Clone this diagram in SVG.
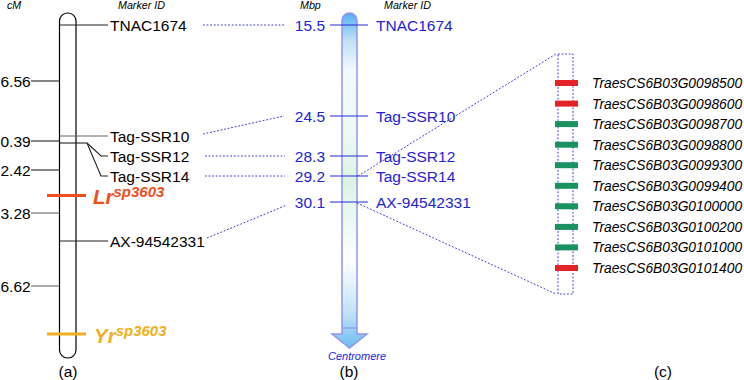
<svg xmlns="http://www.w3.org/2000/svg" width="744" height="380" viewBox="0 0 744 380">
<defs>
<linearGradient id="chrGrad" gradientUnits="userSpaceOnUse" x1="0" y1="13" x2="0" y2="348">
<stop offset="0" stop-color="#55aef0"/>
<stop offset="0.08" stop-color="#bfe0f8"/>
<stop offset="0.17" stop-color="#f2f9fe"/>
<stop offset="0.35" stop-color="#eef9f2"/>
<stop offset="0.5" stop-color="#dcf4e3"/>
<stop offset="0.64" stop-color="#eefaf3"/>
<stop offset="0.74" stop-color="#ffffff"/>
<stop offset="0.9" stop-color="#bde1f7"/>
<stop offset="1" stop-color="#6cbcf0"/>
</linearGradient>
</defs>
<style>
text{font-family:"Liberation Sans",Arial,sans-serif;}
.lbl{font-size:15.5px;fill:#000;}
.blbl{font-size:15.5px;fill:#2222d6;}
.hdr{font-size:10.7px;font-style:italic;fill:#000;}
.gene{font-size:13.8px;font-style:italic;fill:#000;}
.tick{stroke:#222;stroke-width:1.1;fill:none;}
.gtick{stroke:#666;stroke-width:1.1;fill:none;}
.btick{stroke:#2a2ad0;stroke-width:1.2;fill:none;}
.dot{stroke:#3a3ad0;stroke-width:1;stroke-dasharray:1.8 1.8;fill:none;}
.red{fill:#e3232a;}
.green{fill:#1a9160;}
</style>
<rect width="744" height="380" fill="#ffffff"/>

<!-- headers -->
<text class="hdr" x="7" y="9">cM</text>
<text class="hdr" x="118" y="9">Marker ID</text>
<text class="hdr" x="300" y="9">Mbp</text>
<text class="hdr" x="384" y="9">Marker ID</text>

<!-- (a) genetic map -->
<g id="chrA">
<rect x="59.5" y="13" width="16.5" height="345" rx="8" ry="8" fill="#fff" stroke="#000" stroke-width="1.2"/>
<text class="lbl" x="68" y="377" text-anchor="middle">(a)</text>
</g>
<g id="cM-scale">
<line class="tick" x1="31" y1="81" x2="59.5" y2="81"/>
<line class="tick" x1="31" y1="141" x2="59.5" y2="141"/>
<line class="tick" x1="31" y1="170" x2="59.5" y2="170"/>
<line class="gtick" x1="31" y1="213" x2="59.5" y2="213"/>
<line class="gtick" x1="31" y1="286" x2="59.5" y2="286"/>
<text class="lbl" x="0.5" y="86.5">6.56</text>
<text class="lbl" x="0.5" y="146.5">0.39</text>
<text class="lbl" x="0.5" y="175.5">2.42</text>
<text class="lbl" x="0.5" y="218.5">3.28</text>
<text class="lbl" x="0.5" y="291.5">6.62</text>
</g>
<g id="a-TNAC1674">
<line class="tick" x1="59.5" y1="25" x2="108" y2="25"/>
<text class="lbl" x="110" y="30.5">TNAC1674</text>
</g>
<g id="a-TagSSR10">
<line class="gtick" x1="59.5" y1="136" x2="108" y2="136"/>
<text class="lbl" x="110" y="141.5">Tag-SSR10</text>
</g>
<g id="a-TagSSR12">
<line class="tick" x1="59.5" y1="143" x2="87" y2="143"/>
<polyline class="tick" points="87,143 101,156 108,156"/>
<text class="lbl" x="110" y="161.5">Tag-SSR12</text>
</g>
<g id="a-TagSSR14">
<polyline class="tick" points="87,143 101,176 108,176"/>
<text class="lbl" x="110" y="181.5">Tag-SSR14</text>
</g>
<g id="a-AX94542331">
<line class="tick" x1="59.5" y1="241" x2="108" y2="241"/>
<text class="lbl" x="110" y="246.5">AX-94542331</text>
</g>
<g id="Lr">
<line x1="47" y1="195.5" x2="86" y2="195.5" stroke="#f04e1e" stroke-width="3.2"/>
<text x="93" y="204" font-size="20.5" font-weight="bold" font-style="italic" fill="#f04e1e">Lr<tspan font-size="15" dy="-7">sp3603</tspan></text>
</g>
<g id="Yr">
<line x1="47" y1="334" x2="86" y2="334" stroke="#f0b020" stroke-width="3.2"/>
<text x="94" y="342.5" font-size="20.5" font-weight="bold" font-style="italic" fill="#f0b020">Yr<tspan font-size="15" dy="-7">sp3603</tspan></text>
</g>

<!-- (b) physical map -->
<g id="chrB">
<path d="M342,334 V20.5 A7.5,7.5 0 0 1 357,20.5 V334 H367 L349.5,348 L332,334 Z" fill="url(#chrGrad)" stroke="#9494f0" stroke-width="1.5" stroke-linejoin="miter"/>
<line x1="342" y1="328" x2="357" y2="328" stroke="#9494f0" stroke-width="1.2"/>
<text x="357" y="360" font-size="11" font-style="italic" fill="#2222d6" text-anchor="middle">Centromere</text>
<text class="lbl" x="349" y="377" text-anchor="middle">(b)</text>
</g>
<g id="b-TNAC1674">
<line class="btick" x1="330" y1="25" x2="368" y2="25"/>
<text class="blbl" x="325" y="30.5" text-anchor="end">15.5</text>
<text class="blbl" x="376" y="30.5">TNAC1674</text>
</g>
<g id="b-TagSSR10">
<line class="btick" x1="330" y1="116" x2="368" y2="116"/>
<text class="blbl" x="325" y="121.5" text-anchor="end">24.5</text>
<text class="blbl" x="376" y="121.5">Tag-SSR10</text>
</g>
<g id="b-TagSSR12">
<line class="btick" x1="330" y1="156" x2="368" y2="156"/>
<text class="blbl" x="325" y="161.5" text-anchor="end">28.3</text>
<text class="blbl" x="376" y="161.5">Tag-SSR12</text>
</g>
<g id="b-TagSSR14">
<line class="btick" x1="330" y1="176" x2="368" y2="176"/>
<text class="blbl" x="325" y="181.5" text-anchor="end">29.2</text>
<text class="blbl" x="376" y="181.5">Tag-SSR14</text>
</g>
<g id="b-AX94542331">
<line class="btick" x1="330" y1="202" x2="368" y2="202"/>
<text class="blbl" x="325" y="207.5" text-anchor="end">30.1</text>
<text class="blbl" x="376" y="207.5">AX-94542331</text>
</g>

<!-- connectors -->
<g id="connectors">
<line class="dot" x1="203" y1="25" x2="285" y2="25"/>
<line class="dot" x1="203" y1="134" x2="284" y2="116"/>
<line class="dot" x1="205" y1="156" x2="285" y2="156"/>
<line class="dot" x1="205" y1="176" x2="285" y2="176"/>
<line class="dot" x1="207" y1="238" x2="287" y2="205"/>
<line class="dot" x1="358" y1="176" x2="556" y2="54"/>
<line class="dot" x1="357" y1="203" x2="556" y2="294"/>
</g>

<!-- (c) gene region -->
<g id="region">
<rect x="558" y="54" width="15" height="240" fill="#e6f7f0" class="dot"/>
<text class="lbl" x="663" y="377" text-anchor="middle">(c)</text>
</g>
<g id="genes">
<rect class="red" x="555" y="80" width="23" height="6"/>
<rect class="red" x="555" y="100.6" width="23" height="6"/>
<rect class="green" x="555" y="121.1" width="23" height="6"/>
<rect class="green" x="555" y="141.7" width="23" height="6"/>
<rect class="green" x="555" y="162.2" width="23" height="6"/>
<rect class="green" x="555" y="182.8" width="23" height="6"/>
<rect class="green" x="555" y="203.3" width="23" height="6"/>
<rect class="green" x="555" y="223.9" width="23" height="6"/>
<rect class="green" x="555" y="244.4" width="23" height="6"/>
<rect class="red" x="555" y="265" width="23" height="6"/>
<text class="gene" x="592" y="88">TraesCS6B03G0098500</text>
<text class="gene" x="592" y="108.6">TraesCS6B03G0098600</text>
<text class="gene" x="592" y="129.1">TraesCS6B03G0098700</text>
<text class="gene" x="592" y="149.7">TraesCS6B03G0098800</text>
<text class="gene" x="592" y="170.2">TraesCS6B03G0099300</text>
<text class="gene" x="592" y="190.8">TraesCS6B03G0099400</text>
<text class="gene" x="592" y="211.3">TraesCS6B03G0100000</text>
<text class="gene" x="592" y="231.9">TraesCS6B03G0100200</text>
<text class="gene" x="592" y="252.4">TraesCS6B03G0101000</text>
<text class="gene" x="592" y="273">TraesCS6B03G0101400</text>
</g>
</svg>
